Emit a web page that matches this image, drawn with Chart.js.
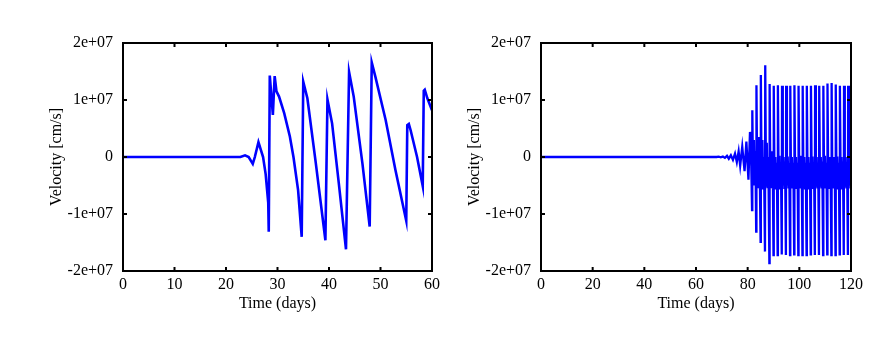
<!DOCTYPE html>
<html>
<head>
<meta charset="utf-8">
<script src="https://cdn.jsdelivr.net/npm/chart.js@4"></script>
<style>
  body { margin: 0; background: #fff; }
  #wrap { position: relative; width: 889px; height: 343px; }
  canvas { position: absolute; top: 0; }
</style>
</head>
<body>
<div id="wrap">
  <canvas id="izq" width="444" height="343" style="left:0px"></canvas>
  <canvas id="der" width="471" height="343" style="left:418px"></canvas>
</div>
<script>
// velocities are in units of 1e7 cm/s
const yTickValues = [-2, -1, 0, 1, 2];
const yTickLabels = ['-2e+07', '-1e+07', '0', '1e+07', '2e+07'];

// left panel (0 - 60 days)
const leftDays = [0, 10, 20, 22.8, 23.7, 24.4, 25.2, 25.6, 26.3, 27.2,
  27.7, 28.2, 28.3, 28.5, 29.1, 29.45, 29.8, 30.3, 31.3, 32.4,
  33.1, 34.0, 34.7, 35.0, 35.8, 37.4, 39.3, 39.7, 40.6, 41.9,
  43.3, 43.9, 44.8, 46.5, 47.9, 48.3, 49.0, 51.0, 52.9, 55.0,
  55.2, 55.5, 55.85, 57.1, 58.2, 58.4, 58.6, 59.1, 60];
const leftVel = [0, 0, 0, 0, 0.03, 0, -0.12, 0, 0.26, 0,
  -0.3, -0.8, -1.31, 1.43, 0.74, 1.42, 1.15, 1.06, 0.77, 0.36,
  0, -0.58, -1.4, 1.32, 1.03, -0.08, -1.46, 1.01, 0.59, -0.46,
  -1.62, 1.49, 1.06, -0.12, -1.22, 1.66, 1.41, 0.65, -0.23, -1.12,
  0.56, 0.58, 0.47, 0, -0.51, 1.16, 1.18, 1.03, 0.82];

// right panel (0 - 120 days)
const rightDays = [
  0, 20, 40, 60, 65.6,
  66.4, 67.2, 68.0, 68.8, 69.6, 70.4, 71.2, 72.0, 72.7, 73.5,
  74.3, 75.1, 75.8, 76.5, 77.1, 77.9, 78.8, 79.5, 80.3, 80.9, 81.3,
  81.7, 81.8, 82.1, 82.4, 82.7, 83.0,
  83.3, 83.4, 83.7, 84.0, 84.3, 84.6,
  85.0, 85.1, 85.4, 85.7, 86.0, 86.3,
  86.7, 86.8, 87.1, 87.4, 87.7, 88.0,
  88.4, 88.5, 88.8, 89.1, 89.4, 89.7,
  90.0, 90.1, 90.4, 90.7, 91.0, 91.3,
  91.6, 91.7, 92.0, 92.3, 92.6, 92.9,
  93.2, 93.3, 93.6, 93.9, 94.2, 94.5,
  94.8, 94.9, 95.2, 95.5, 95.8, 96.1,
  96.4, 96.5, 96.8, 97.1, 97.4, 97.7,
  98.0, 98.1, 98.4, 98.7, 99.0, 99.3,
  99.6, 99.7, 100.0, 100.3, 100.6, 100.9,
  101.2, 101.3, 101.6, 101.9, 102.2, 102.5,
  102.8, 102.9, 103.2, 103.5, 103.8, 104.1,
  104.4, 104.5, 104.8, 105.1, 105.4, 105.7,
  106.0, 106.1, 106.4, 106.7, 107.0, 107.3,
  107.6, 107.7, 108.0, 108.3, 108.6, 108.9,
  109.2, 109.3, 109.6, 109.9, 110.2, 110.5,
  110.8, 110.9, 111.2, 111.5, 111.8, 112.1,
  112.4, 112.5, 112.8, 113.1, 113.4, 113.7,
  114.0, 114.1, 114.4, 114.7, 115.0, 115.3,
  115.6, 115.7, 116.0, 116.3, 116.6, 116.9,
  117.2, 117.3, 117.6, 117.9, 118.2, 118.5,
  118.8, 118.9, 119.2, 119.5, 119.8, 120
];
const rightVel = [
  0, 0, 0, 0, 0,
  0, 0, 0, 0.005, -0.005, 0.01, -0.015, 0.02, -0.03, 0.03,
  -0.05, 0.06, -0.09, 0.1, -0.15, 0.18, -0.25, 0.27, -0.4, 0.44, 0.1,
  -0.93, 0.82, -0.4, 0.3, -0.5, 0.1,
  -1.31, 1.26, -0.45, 0.35, -0.55, 0.05,
  -1.49, 1.44, -0.45, 0.3, -0.55, 0,
  -1.66, 1.61, -0.5, 0.25, -0.55, 0,
  -1.86, 1.28, -0.5, 0.1, -0.55, -0.05,
  -1.72, 1.25, -0.5, 0, -0.55, -0.1,
  -1.72, 1.26, -0.52, 0.02, -0.55, -0.1,
  -1.71, 1.25, -0.5, 0, -0.56, -0.08,
  -1.72, 1.25, -0.5, 0.01, -0.55, -0.1,
  -1.72, 1.25, -0.52, 0, -0.55, -0.1,
  -1.71, 1.26, -0.5, 0, -0.56, -0.1,
  -1.72, 1.25, -0.5, 0.02, -0.55, -0.08,
  -1.72, 1.25, -0.51, 0, -0.55, -0.1,
  -1.72, 1.25, -0.5, 0, -0.55, -0.1,
  -1.71, 1.25, -0.5, 0.01, -0.56, -0.1,
  -1.72, 1.26, -0.52, 0, -0.55, -0.1,
  -1.72, 1.25, -0.5, 0, -0.55, -0.08,
  -1.72, 1.25, -0.5, 0.02, -0.55, -0.1,
  -1.71, 1.29, -0.5, 0, -0.56, -0.1,
  -1.72, 1.3, -0.51, 0, -0.55, -0.1,
  -1.72, 1.27, -0.5, 0.01, -0.55, -0.1,
  -1.71, 1.25, -0.5, 0, -0.55, -0.08,
  -1.72, 1.25, -0.52, 0, -0.55, -0.1,
  -1.72, 1.25, -0.5, 0, -0.55, -0.3
];

const fuente = { family: '"Liberation Serif", "DejaVu Serif", serif', size: 16 };

// black frame with inward ticks on all four sides (gnuplot style)
const marco = {
  id: 'marco',
  afterDatasetsDraw(chart) {
    const { ctx, chartArea: a, scales: { x, y } } = chart;
    ctx.save();
    ctx.strokeStyle = '#000';
    ctx.lineWidth = 2;
    ctx.beginPath();
    x.ticks.forEach(t => {
      const px = x.getPixelForValue(t.value);
      ctx.moveTo(px, a.bottom); ctx.lineTo(px, a.bottom - 4);
      ctx.moveTo(px, a.top); ctx.lineTo(px, a.top + 4);
    });
    y.ticks.forEach(t => {
      const py = y.getPixelForValue(t.value);
      ctx.moveTo(a.left, py); ctx.lineTo(a.left + 4, py);
      ctx.moveTo(a.right, py); ctx.lineTo(a.right - 4, py);
    });
    ctx.stroke();
    ctx.strokeRect(a.left, a.top, a.right - a.left, a.bottom - a.top);
    ctx.restore();
  }
};

function opciones(xMax, xStep, padRight) {
  return {
    responsive: false,
    animation: false,
    layout: { padding: { top: 43, right: padRight, bottom: 0, left: 0 } },
    plugins: { legend: { display: false }, tooltip: { enabled: false } },
    scales: {
      x: {
        type: 'linear', min: 0, max: xMax,
        grid: { display: false, drawTicks: false },
        border: { display: false },
        ticks: { stepSize: xStep, padding: 4, color: '#000', font: fuente, maxRotation: 0 },
        title: { display: true, text: 'Time (days)', color: '#000', font: fuente, padding: { top: 0, bottom: 30 } },
        afterFit: s => { s.height = 72; }
      },
      y: {
        min: -2, max: 2,
        grid: { display: false, drawTicks: false },
        border: { display: false },
        ticks: {
          stepSize: 1, padding: 10, color: '#000', font: fuente,
          callback: v => yTickLabels[yTickValues.indexOf(v)]
        },
        title: { display: true, text: 'Velocity [cm/s]', color: '#000', font: fuente, padding: { top: 47, bottom: 0 } },
        afterFit: s => { s.width = 123; }
      }
    }
  };
}

function serie(dias, vel, ancho) {
  return {
    data: dias.map((d, i) => ({ x: d, y: vel[i] })),
    borderColor: '#0000ff',
    borderWidth: ancho,
    pointRadius: 0,
    tension: 0,
    fill: false
  };
}

new Chart(document.getElementById('izq').getContext('2d'), {
  type: 'line',
  data: { datasets: [serie(leftDays, leftVel, 2.6)] },
  options: opciones(60, 10, 11),
  plugins: [marco]
});

new Chart(document.getElementById('der').getContext('2d'), {
  type: 'line',
  data: { datasets: [serie(rightDays, rightVel, 2.3)] },
  options: opciones(120, 20, 38),
  plugins: [marco]
});
</script>
</body>
</html>
